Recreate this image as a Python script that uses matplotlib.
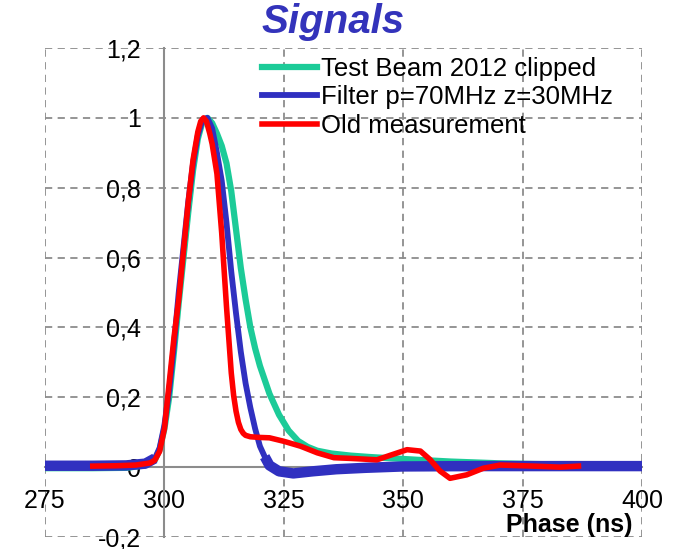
import numpy as np
import matplotlib.pyplot as plt
from matplotlib.ticker import FuncFormatter

plt.rcParams['font.family'] = ['Liberation Sans', 'DejaVu Sans']

# Test Beam 2012 clipped
x_tb = [275, 285, 292, 296, 298, 299, 300, 301, 302, 303, 304, 305, 306, 307, 308,
        309, 310, 311, 312, 313, 314, 315, 316, 317, 318, 319, 320, 322, 324, 326,
        328, 330, 332, 335, 339, 343, 348, 353, 360, 370, 385, 400]
y_tb = [-0.003, -0.003, -0.002, 0.005, 0.02, 0.05, 0.11, 0.2, 0.33, 0.47, 0.6, 0.73,
        0.85, 0.94, 0.99, 1.0, 0.985, 0.955, 0.92, 0.87, 0.79, 0.68, 0.57, 0.48, 0.40,
        0.34, 0.29, 0.21, 0.15, 0.105, 0.075, 0.058, 0.047, 0.039, 0.033, 0.029, 0.025,
        0.021, 0.016, 0.011, 0.007, 0.005]

# Filter p=70MHz z=30MHz
x_flt = [275, 285, 292, 296, 298, 299, 300, 301, 302, 303, 304, 305, 306, 307, 308,
         309, 310, 311, 312, 313, 314, 315, 316, 317, 318, 319, 320, 321, 322, 324,
         327, 331, 336, 342, 350, 365, 380, 400]
y_flt = [0.004, 0.004, 0.005, 0.01, 0.025, 0.055, 0.12, 0.22, 0.35, 0.5, 0.63, 0.76,
         0.87, 0.95, 0.995, 1.0, 0.97, 0.9, 0.82, 0.7, 0.56, 0.44, 0.33, 0.24, 0.17,
         0.11, 0.06, 0.03, 0.005, -0.012, -0.018, -0.012, -0.006, -0.002, 0.002, 0.003,
         0.003, 0.003]

# Old measurement
x_old = [285, 290, 294, 297, 298, 299, 300, 301, 302, 303, 304, 305, 306, 307, 307.6,
         308.2, 308.8, 309.5, 310, 311, 312, 313, 314, 314.5, 315, 315.5, 316, 316.5,
         317, 318, 320, 322, 325, 328.5, 332, 335.5, 339, 344.5, 347.3, 350.8, 353.6,
         355.6, 357.7, 359.8, 363.3, 366.8, 370.3, 377.3, 382.8, 386.7]
y_old = [0.003, 0.004, 0.006, 0.012, 0.02, 0.045, 0.11, 0.24, 0.37, 0.48, 0.62, 0.76,
         0.88, 0.96, 0.99, 1.0, 0.99, 0.955, 0.925, 0.84, 0.67, 0.46, 0.27, 0.205, 0.16,
         0.128, 0.108, 0.097, 0.091, 0.087, 0.085, 0.084, 0.074, 0.06, 0.041, 0.027,
         0.025, 0.021, 0.034, 0.05, 0.046, 0.022, -0.011, -0.032, -0.022, -0.003, 0.006,
         0.003, 0.0, 0.003]

x_ticks = [275, 300, 325, 350, 375, 400]
y_ticks = [-0.2, 0, 0.2, 0.4, 0.6, 0.8, 1, 1.2]

c_tb = '#1ccb98'
c_flt = '#3030c0'
c_old = '#ff0000'
gray = '#8c8c8c'

fig = plt.figure(figsize=(6.75, 5.49), dpi=100)
ax = fig.add_axes([45 / 675, 12 / 549, 597 / 675, 489 / 549])

ax.plot(x_tb, y_tb, color=c_tb, lw=4.5, label='Test Beam 2012 clipped', zorder=3)
ax.plot(x_flt, y_flt, color=c_flt, lw=4.2, label='Filter p=70MHz z=30MHz', zorder=4)
# noisy flat parts of the filtered signal look like a wide band
xf = np.array(x_flt)
yf = np.array(y_flt)
for m in (xf <= 298, xf >= 321):
    ax.plot(xf[m], yf[m], color=c_flt, lw=7.5, solid_capstyle='butt', zorder=4)
ax.plot(x_old, y_old, color=c_old, lw=4, label='Old measurement', zorder=5)

ax.set_xlim(275, 400)
ax.set_ylim(-0.2, 1.2)
ax.set_xticks(x_ticks)
ax.set_yticks(y_ticks)
ax.yaxis.set_major_formatter(FuncFormatter(lambda v, p: f'{v:g}'.replace('.', ',')))

ax.spines['left'].set_position(('data', 300))
ax.spines['bottom'].set_position(('data', 0))
for s in ('left', 'bottom'):
    ax.spines[s].set_color(gray)
    ax.spines[s].set_linewidth(1.5)
ax.spines['top'].set_visible(False)
ax.spines['right'].set_visible(False)

ax.grid(True, color=gray, lw=1.3, ls=(0, (4, 3)))
ax.set_axisbelow(True)
ax.tick_params(axis='both', length=0, labelsize=18)
ax.tick_params(axis='y', pad=17)
ax.tick_params(axis='x', pad=16)

ax.legend(loc='upper left', bbox_to_anchor=(262 / 675, 492 / 549),
          bbox_transform=fig.transFigure, frameon=False, fontsize=18.5,
          borderpad=0, borderaxespad=0, handlelength=2.15, handletextpad=0.15,
          labelspacing=0.17)

fig.text(333 / 675, 1 - 22 / 549, 'Signals', ha='center', va='center',
         fontsize=29, fontweight='bold', fontstyle='italic', color='#3333bb')
fig.text(632 / 675, 1 - 525 / 549, 'Phase (ns)', ha='right', va='center',
         fontsize=18, fontweight='bold')

fig.savefig('out.png', dpi=100)
